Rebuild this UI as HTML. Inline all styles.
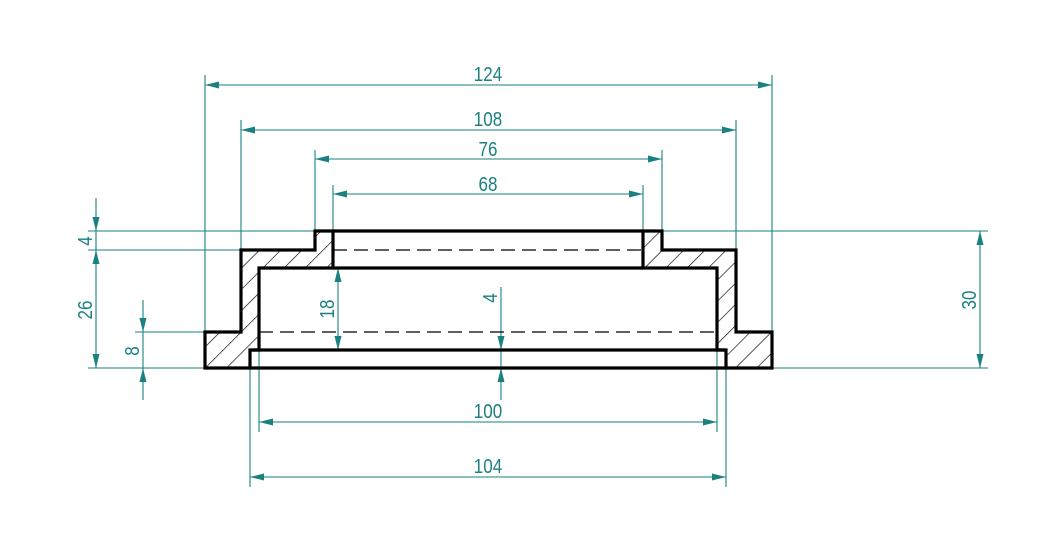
<!DOCTYPE html>
<html><head><meta charset="utf-8"><style>
html,body{margin:0;padding:0;background:#fff;width:1039px;height:536px;overflow:hidden}
svg{display:block}
text{font-family:"Liberation Sans",sans-serif;font-size:20px;fill:#1a8080}
</style></head><body>
<svg width="1039" height="536" viewBox="0 0 1039 536" xmlns="http://www.w3.org/2000/svg">
<defs>
<pattern id="h" patternUnits="userSpaceOnUse" width="15" height="15" patternTransform="rotate(45)">
<line x1="0" y1="0" x2="0" y2="15" stroke="#000" stroke-width="1.3"/>
</pattern>
</defs>
<polygon points="205,332 241,332 241,250 315,250 315,231 333,231 333,268 259,268 259,350 250,350 250,368 205,368" fill="url(#h)"/>
<polygon points="772,332 736,332 736,250 662,250 662,231 643,231 643,268 717,268 717,350 726,350 726,368 772,368" fill="url(#h)"/>

<g stroke="#1a8080" stroke-width="1.1" fill="none">
<line x1="205" y1="75" x2="205" y2="332"/>
<line x1="772" y1="75" x2="772" y2="332"/>
<line x1="241" y1="120" x2="241" y2="250"/>
<line x1="736" y1="120" x2="736" y2="250"/>
<line x1="315" y1="150" x2="315" y2="231"/>
<line x1="662" y1="150" x2="662" y2="231"/>
<line x1="333" y1="185" x2="333" y2="231"/>
<line x1="643" y1="185" x2="643" y2="231"/>
<line x1="259" y1="350" x2="259" y2="432"/>
<line x1="717" y1="350" x2="717" y2="432"/>
<line x1="250" y1="368" x2="250" y2="487"/>
<line x1="726" y1="368" x2="726" y2="487"/>
<line x1="88" y1="231" x2="315" y2="231"/>
<line x1="662" y1="231" x2="988" y2="231"/>
<line x1="88" y1="250" x2="241" y2="250"/>
<line x1="135" y1="332" x2="205" y2="332"/>
<line x1="88" y1="368" x2="205" y2="368"/>
<line x1="772" y1="368" x2="988" y2="368"/>
<line x1="259" y1="268" x2="346" y2="268"/>
<line x1="259" y1="350" x2="346" y2="350"/>
<line x1="205" y1="85" x2="772" y2="85"/>
<line x1="241" y1="130" x2="736" y2="130"/>
<line x1="315" y1="159" x2="662" y2="159"/>
<line x1="333" y1="194" x2="643" y2="194"/>
<line x1="259" y1="422" x2="717" y2="422"/>
<line x1="250" y1="477" x2="726" y2="477"/>
<line x1="980" y1="231" x2="980" y2="368"/>
<line x1="96" y1="198" x2="96" y2="368"/>
<line x1="143" y1="300" x2="143" y2="400"/>
<line x1="338" y1="268" x2="338" y2="350"/>
<line x1="501" y1="287" x2="501" y2="400"/>
</g>

<g fill="#1a8080">
<polygon points="205,85 219,81.5 219,88.5"/><polygon points="772,85 758,81.5 758,88.5"/>
<polygon points="241,130 255,126.5 255,133.5"/><polygon points="736,130 722,126.5 722,133.5"/>
<polygon points="315,159 329,155.5 329,162.5"/><polygon points="662,159 648,155.5 648,162.5"/>
<polygon points="333,194 347,190.5 347,197.5"/><polygon points="643,194 629,190.5 629,197.5"/>
<polygon points="259,422 273,418.5 273,425.5"/><polygon points="717,422 703,418.5 703,425.5"/>
<polygon points="250,477 264,473.5 264,480.5"/><polygon points="726,477 712,473.5 712,480.5"/>
<polygon points="980,231 976.5,245 983.5,245"/><polygon points="980,368 976.5,354 983.5,354"/>
<polygon points="96,231 92.5,217 99.5,217"/>
<polygon points="96,250 92.5,264 99.5,264"/>
<polygon points="96,368 92.5,354 99.5,354"/>
<polygon points="143,332 139.5,318 146.5,318"/>
<polygon points="143,368 139.5,382 146.5,382"/>
<polygon points="338,268 334.5,282 341.5,282"/>
<polygon points="338,350 334.5,336 341.5,336"/>
<polygon points="501,350 497.5,336 504.5,336"/>
<polygon points="501,368 497.5,382 504.5,382"/>
</g>

<g stroke="#000" stroke-width="1.2" stroke-dasharray="14,7">
<line x1="333" y1="250" x2="643" y2="250"/>
<line x1="259" y1="332" x2="717" y2="332"/>
</g>

<g stroke="#000" stroke-width="3.2" fill="none" stroke-linejoin="miter">
<polygon points="205,332 241,332 241,250 315,250 315,231 333,231 333,268 259,268 259,350 250,350 250,368 205,368"/>
<polygon points="772,332 736,332 736,250 662,250 662,231 643,231 643,268 717,268 717,350 726,350 726,368 772,368"/>
<line x1="333" y1="231" x2="643" y2="231"/>
<line x1="333" y1="268" x2="643" y2="268"/>
<line x1="250" y1="350" x2="726" y2="350"/>
<line x1="250" y1="368" x2="726" y2="368"/>
</g>

<g text-anchor="middle">
<text x="488" y="81" transform="translate(488 0) scale(0.85 1) translate(-488 0)">124</text>
<text x="488" y="126" transform="translate(488 0) scale(0.85 1) translate(-488 0)">108</text>
<text x="488" y="156" transform="translate(488 0) scale(0.85 1) translate(-488 0)">76</text>
<text x="488" y="191" transform="translate(488 0) scale(0.85 1) translate(-488 0)">68</text>
<text x="488" y="418" transform="translate(488 0) scale(0.85 1) translate(-488 0)">100</text>
<text x="488" y="473" transform="translate(488 0) scale(0.85 1) translate(-488 0)">104</text>
<text transform="translate(976 300) rotate(-90) scale(0.85 1)">30</text>
<text transform="translate(92 241) rotate(-90) scale(0.85 1)">4</text>
<text transform="translate(92 310) rotate(-90) scale(0.85 1)">26</text>
<text transform="translate(139 351) rotate(-90) scale(0.85 1)">8</text>
<text transform="translate(334 309) rotate(-90) scale(0.85 1)">18</text>
<text transform="translate(497 298) rotate(-90) scale(0.85 1)">4</text>
</g>
</svg>
</body></html>
